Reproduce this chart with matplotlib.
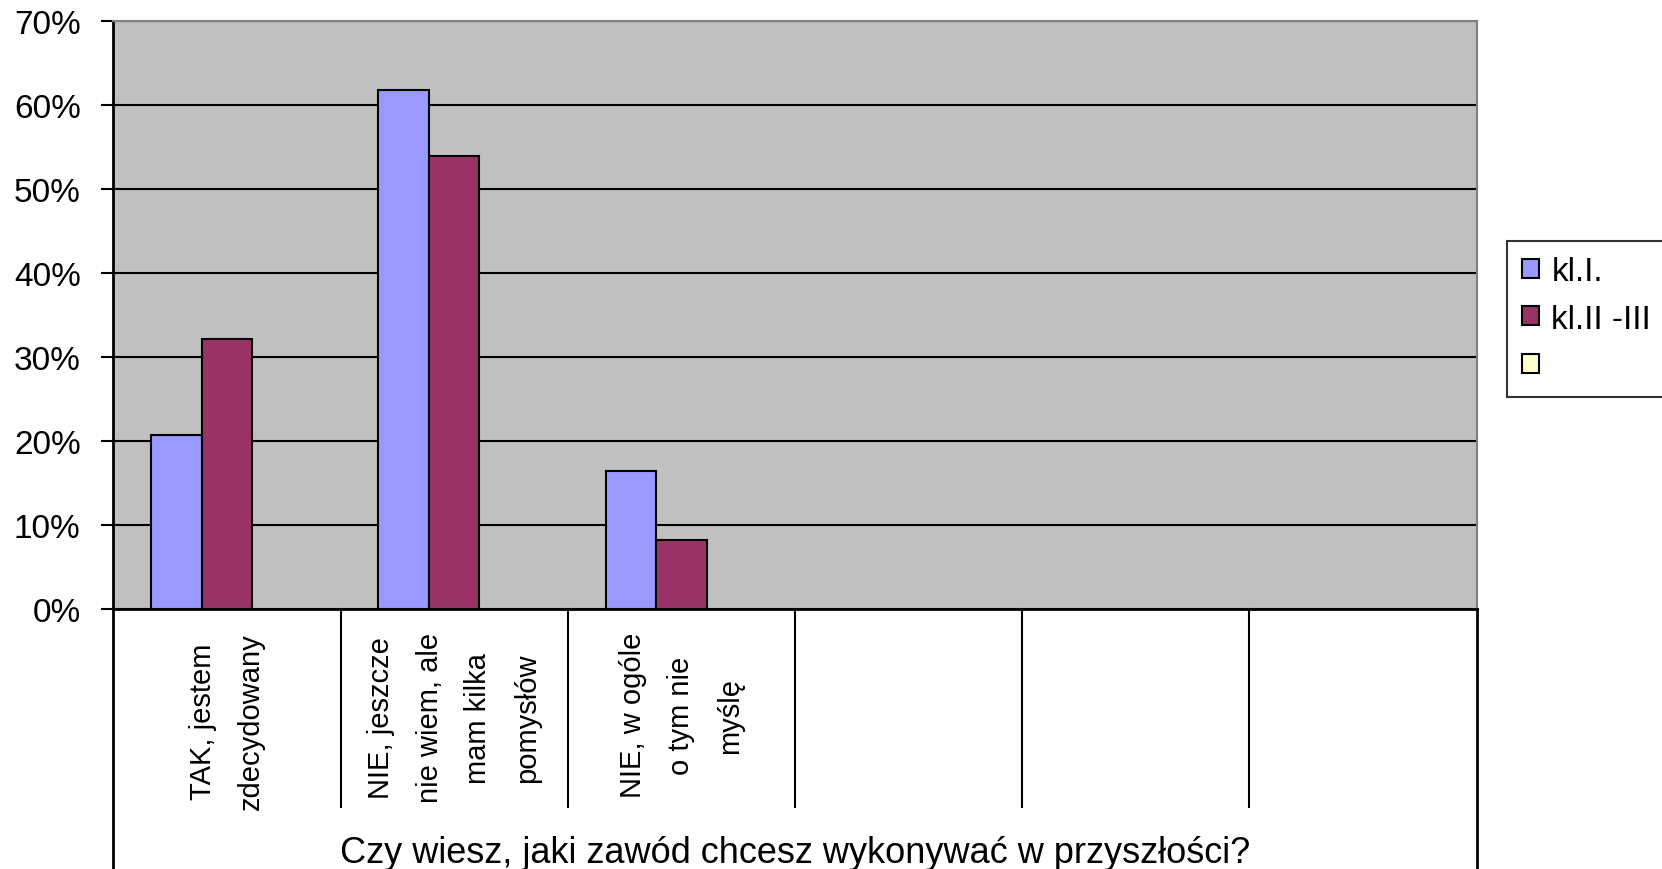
import matplotlib
matplotlib.use("Agg")
import matplotlib.pyplot as plt
from matplotlib.patches import Patch
import numpy as np

plt.rcParams['font.family'] = ['Liberation Sans', 'DejaVu Sans']

# data (percent)
categories = ["TAK, jestem\nzdecydowany",
              "NIE, jeszcze\nnie wiem, ale\nmam kilka\npomysłów",
              "NIE, w ogóle\no tym nie\nmyślę",
              "", "", ""]
series_names = ["kl.I.", "kl.II -III", ""]
kl_1 = [20.7, 61.8, 16.4, np.nan, np.nan, np.nan]
kl_2_3 = [32.1, 53.9, 8.2, np.nan, np.nan, np.nan]
kl_empty = [np.nan] * 6
colors = ["#9999FF", "#993366", "#FFFFCC"]
yticks = [0, 10, 20, 30, 40, 50, 60, 70]
axis_title = "Czy wiesz, jaki zawód chcesz wykonywać w przyszłości?"

fig = plt.figure(figsize=(16.62, 8.70), dpi=100)
ax = fig.add_axes([0.0682, 0.2994, 0.8202, 0.675])
ax.set_facecolor("#C0C0C0")

x = np.arange(len(categories))
w = 1 / 4.5
for i, vals in enumerate([kl_1, kl_2_3, kl_empty]):
    ax.bar(x + (i - 1) * w, vals, width=w, color=colors[i],
           edgecolor="black", linewidth=1.5, zorder=3)

ax.set_xlim(-0.5, len(categories) - 0.5)
ax.set_ylim(0, 70)
ax.set_yticks(yticks)
ax.set_yticklabels([f"{t}%" for t in yticks], fontsize=24)
ax.yaxis.grid(True, color="black", linewidth=1.5, zorder=1)
ax.set_axisbelow(True)
ax.tick_params(axis="y", length=8.5, width=1.5, pad=15, direction="out")
ax.set_xticks([])

for s in ["top", "right"]:
    ax.spines[s].set_color("#808080")
    ax.spines[s].set_linewidth(1.5)
for s in ["left", "bottom"]:
    ax.spines[s].set_linewidth(2)

# category table below the axis
tr = ax.get_xaxis_transform()
for b in np.arange(0.5, len(categories) - 0.5, 1):
    ax.plot([b, b], [0, -0.338], transform=tr, color="black", lw=1.5, clip_on=False)
for b in [-0.5, len(categories) - 0.5]:
    ax.plot([b, b], [0, -0.5], transform=tr, color="black", lw=2, clip_on=False)

for xi, lab in zip(x, categories):
    ax.text(xi, -0.04, lab, transform=tr, rotation=90, ha="center", va="top",
            multialignment="center", fontsize=21, linespacing=1.93)

ax.text((len(categories) - 1) / 2, -0.4147, axis_title, transform=tr,
        ha="center", va="center", fontsize=26)

handles = [Patch(facecolor=c, edgecolor="black", linewidth=1.5) for c in colors]
leg = fig.legend(handles, series_names, loc="upper left",
                 bbox_to_anchor=(0.9068, 0.7218), fontsize=24, frameon=True,
                 fancybox=False, handlelength=0.5, handleheight=0.5,
                 handletextpad=0.38, labelspacing=0.5, borderpad=0.45,
                 borderaxespad=0)
leg.get_frame().set_edgecolor("black")
leg.get_frame().set_linewidth(1.5)

fig.savefig("out.png", dpi=100)
